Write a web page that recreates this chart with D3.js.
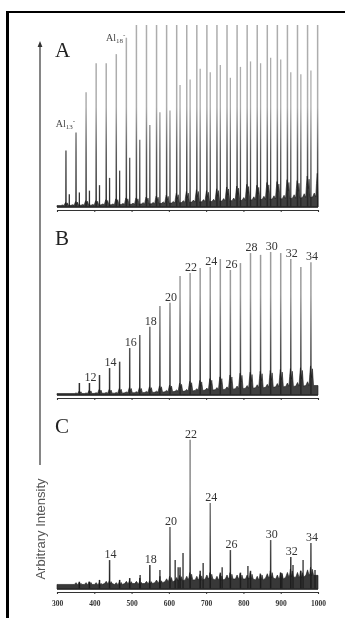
<!DOCTYPE html>
<html>
<head>
<meta charset="utf-8">
<script src="https://cdn.jsdelivr.net/npm/d3@7"></script>
<style>
html, body { margin: 0; padding: 0; background: #fff; }
svg { display: block; will-change: transform; }
text { -webkit-font-smoothing: antialiased; }
</style>
</head>
<body>
<div id="chart"></div>
<script>
// ---- data (intensity in % of panel height) ----
var ticks = [300, 400, 500, 600, 700, 800, 900, 1000];

// panel A : Al_n- clusters, n = 12..37
var nA = [12,13,14,15,16,17,18,19,20,21,22,23,24,25,26,27,28,29,30,31,32,33,34,35,36,37];
var massA = [324,351,378,405,432,459,486,513,540,567,594,621,648,675,702,729,756,783,810,837,864,891,918,945,972,999];
var peakA = [31,41,63,79,79,84,93,100,100,100,100,100,100,100,100,100,100,100,100,100,100,100,100,100,100,100];
var satA = [7,8,9,12,16,20,27,37,45,52,53,67,70,76,74,78,71,77,80,79,82,81,74,73,75,0];
var footA = [2.5,3,3.5,3.5,4,4.5,5,5,5.5,6,6.5,7.5,8.5,9.5,9,10,11,11.5,12.5,12,13.5,14,15,14.5,17,18.5];
var valleyA = [0.8,0.9,1,1,1.2,1.2,1.4,1.5,1.7,1.8,2,2.2,2.5,2.7,2.9,3,3.3,3.5,3.7,4,4.2,4.4,4.6,4.8,5.2,5.5];
var labelsA = [13, 18];

// panels B and C : same cluster series, n = 11..34
var nB = [11,12,13,14,15,16,17,18,19,20,21,22,23,24,25,26,27,28,29,30,31,32,33,34];
var massB = [360,387,414,441,468,495,522,549,576,603,630,657,684,711,738,765,792,819,846,873,900,927,954,981];
var peakB = [6.6,6.6,11,14.8,18.3,25.8,33,37.5,48.9,50.7,65.4,67,69.8,70.3,74.7,68.7,72.5,78,77,78.6,78,74.7,70.3,73];
var footB = [2,2.5,3,3,3.5,4,4,4.5,5,5.5,6.5,7.5,8,9,10,11,12,12.5,13,13.5,14,14.5,15,16];
var valleyB = [0.8,0.8,0.9,1,1,1.2,1.3,1.4,1.5,1.8,2,2.2,2.5,2.7,2.9,3.2,3.5,3.7,4,4.2,4.5,4.7,4.9,5.2];
var labelsB = [12,14,16,18,20,22,24,26,28,30,32,34];

var peakC = [4,4,5,15.9,5,6,6,13.2,7,34,12,82,10,47.3,9,21.4,9,10,8,26.9,9,17.6,10,25.3];
var footC = [3.5,4,3.5,4.5,4,4.5,4,4.5,5,7,7.5,9,8,9,8,9,8.5,9,8.5,10,9,11,10,12];
var valleyC = [2.5,2.5,2.5,3,2.5,3,3,3,3.5,4,4.5,5,5,5.5,5,5.5,5.5,5.5,5,6,5.5,6.5,6.5,7.5];
var extraMassC = [523,576,617,625,638,692,743,812,903,933,960,992];
var extraC = [7.7,10.4,15.9,12,19.8,14.3,12,12.6,8.8,13.2,16,10.4];
var labelsC = [14,18,20,22,24,26,30,32,34];

// ---- drawing ----
var W = 345, H = 618;
var svg = d3.select("#chart").append("svg").attr("width", W).attr("height", H);
var defs = svg.append("defs");

var x = d3.scaleLinear().domain([300, 1000]).range([57, 318]);

var panels = [
	{key: "A", base: 207, axisY: 210, letterY: 57, mass: massA, peak: peakA, sat: satA, foot: footA, valley: valleyA, dark: "#2a2a2a", light: "#adadad", floor: "#262626"},
	{key: "B", base: 395, axisY: 398, letterY: 245, mass: massB, peak: peakB, sat: null, foot: footB, valley: valleyB, dark: "#222", light: "#9c9c9c", floor: "#262626"},
	{key: "C", base: 589, axisY: 592, letterY: 433, mass: massB, peak: peakC, sat: null, foot: footC, valley: valleyC, dark: "#181818", light: "#8a8a8a", floor: "#1c1c1c"}
];

panels.forEach(function(p){
	var y = d3.scaleLinear().domain([0, 100]).range([p.base, p.base - 182]);
	p.y = y;

	// darker towards the baseline, as in the scan
	var g = defs.append("linearGradient").attr("id", "grad" + p.key)
		.attr("gradientUnits", "userSpaceOnUse")
		.attr("x1", 0).attr("x2", 0).attr("y1", p.base).attr("y2", p.base - 182);
	g.append("stop").attr("offset", 0).attr("stop-color", p.dark);
	g.append("stop").attr("offset", 0.3).attr("stop-color", "#5e5e5e");
	g.append("stop").attr("offset", 0.55).attr("stop-color", p.light);
	g.append("stop").attr("offset", 1).attr("stop-color", p.light);

	var layer = svg.append("g").attr("class", "spectrum-" + p.key);

	// satellite peaks (panel A)
	if(p.sat){
		layer.selectAll("line.sat").data(p.mass.filter(function(m, i){ return m + 9 <= 1000 && p.sat[i] > 0; }))
			.enter().append("line").attr("class", "sat")
			.attr("x1", function(m){ return x(m + 9); })
			.attr("x2", function(m){ return x(m + 9); })
			.attr("y1", p.base)
			.attr("y2", function(m){ return y(p.sat[p.mass.indexOf(m)]); })
			.attr("stroke", "url(#grad" + p.key + ")")
			.attr("stroke-width", 1.3);
	}

	// extra small peaks (panel C)
	if(p.key == "C"){
		layer.selectAll("line.extra").data(extraMassC).enter().append("line").attr("class", "extra")
			.attr("x1", function(m){ return x(m); })
			.attr("x2", function(m){ return x(m); })
			.attr("y1", p.base)
			.attr("y2", function(m, i){ return y(extraC[i]); })
			.attr("stroke", "#555")
			.attr("stroke-width", 1.6);
	}

	// main peaks
	layer.selectAll("line.peak").data(p.mass).enter().append("line").attr("class", "peak")
		.attr("x1", function(m){ return x(m); })
		.attr("x2", function(m){ return x(m); })
		.attr("y1", p.base)
		.attr("y2", function(m, i){ return y(p.peak[i]); })
		.attr("stroke", "url(#grad" + p.key + ")")
		.attr("stroke-width", 1.5);

	// noisy dark floor: a dark blob at the foot of every peak
	var pts = [[300, p.valley[0]]];
	p.mass.forEach(function(m, i){
		pts.push([m - 13.5, p.valley[i]]);
		pts.push([m - 9, p.valley[i] * 1.4]);
		pts.push([m - 5, p.valley[i]]);
		pts.push([m - 3, p.foot[i] * 0.7]);
		pts.push([m - 1, p.foot[i]]);
		pts.push([m + 2, p.foot[i] * 0.6]);
		pts.push([m + 4, p.foot[i] * 0.9]);
		pts.push([m + 7, p.valley[i]]);
	});
	pts.push([1000, p.valley[p.valley.length - 1]]);
	pts = pts.filter(function(d){ return d[0] >= 300 && d[0] <= 1000; });

	var area = d3.area()
		.x(function(d){ return x(d[0]); })
		.y0(p.base)
		.y1(function(d){ return y(d[1]); });
	layer.append("path").datum(pts)
		.attr("d", area)
		.attr("fill", p.floor)
		.attr("fill-opacity", 0.88)
		.attr("stroke", "#1a1a1a")
		.attr("stroke-width", 0.6);
	layer.append("line")
		.attr("x1", x(300)).attr("x2", x(1000))
		.attr("y1", p.base).attr("y2", p.base)
		.attr("stroke", "#2a2a2a").attr("stroke-width", 1.5);

	// x axis
	var ax = d3.axisBottom(x).tickValues(ticks).tickSize(2).tickSizeOuter(2)
		.tickFormat(p.key == "C" ? d3.format("d") : "");
	var axg = svg.append("g").attr("transform", "translate(0," + p.axisY + ")").call(ax);
	axg.select(".domain").attr("stroke", "#333").attr("stroke-width", 1.1);
	axg.selectAll(".tick line").attr("stroke", "#333");
	axg.selectAll(".tick text")
		.attr("y", 9)
		.style("font-family", "'Liberation Serif', serif")
		.style("font-size", "7.5px")
		.style("font-weight", "bold")
		.attr("fill", "#333");

	// panel letter
	svg.append("text").attr("x", 55).attr("y", p.letterY).text(p.key)
		.style("font-family", "'Liberation Serif', serif")
		.style("font-size", "21px")
		.attr("fill", "#222");
});

// cluster size labels in B and C
function numLabels(p, list){
	svg.selectAll("text.lab" + p.key).data(list).enter().append("text").attr("class", "lab" + p.key)
		.attr("x", function(n){ return x(p.mass[nB.indexOf(n)]) + 1; })
		.attr("y", function(n){ return p.y(p.peak[nB.indexOf(n)]) - 2; })
		.attr("text-anchor", "middle")
		.style("font-family", "'Liberation Serif', serif")
		.style("font-size", "12px")
		.attr("fill", "#333")
		.text(function(n){ return n; });
}
numLabels(panels[1], labelsB);
numLabels(panels[2], labelsC);

// Al_n- labels in A
var pa = panels[0];
labelsA.forEach(function(n, k){
	var i = nA.indexOf(n);
	var t = svg.append("text")
		.attr("x", x(massA[i]) - 1)
		.attr("y", pa.y(peakA[i]) + (k == 0 ? -5 : 3))
		.attr("text-anchor", "end")
		.style("font-family", "'Liberation Serif', serif")
		.style("font-size", "10px")
		.attr("fill", "#444");
	t.append("tspan").text("Al");
	t.append("tspan").attr("dy", 2).style("font-size", "7px").text(n);
	t.append("tspan").attr("dy", -6).style("font-size", "7px").text("-");
});

// y axis arrow
svg.append("line").attr("x1", 40).attr("x2", 40).attr("y1", 45).attr("y2", 465)
	.attr("stroke", "#444").attr("stroke-width", 1.3);
svg.append("path").attr("d", "M37.6,47 L40,41 L42.4,47 Z").attr("fill", "#333");
svg.append("text")
	.attr("transform", "translate(45,529) rotate(-90)")
	.attr("text-anchor", "middle")
	.style("font-family", "'Liberation Sans', Arial, sans-serif")
	.style("font-size", "13px")
	.attr("fill", "#555")
	.text("Arbitrary Intensity");

// frame
svg.append("line").attr("x1", 6).attr("x2", W).attr("y1", 12).attr("y2", 12)
	.attr("stroke", "#000").attr("stroke-width", 2);
svg.append("line").attr("x1", 7.5).attr("x2", 7.5).attr("y1", 11).attr("y2", H)
	.attr("stroke", "#000").attr("stroke-width", 3);
</script>
</body>
</html>
